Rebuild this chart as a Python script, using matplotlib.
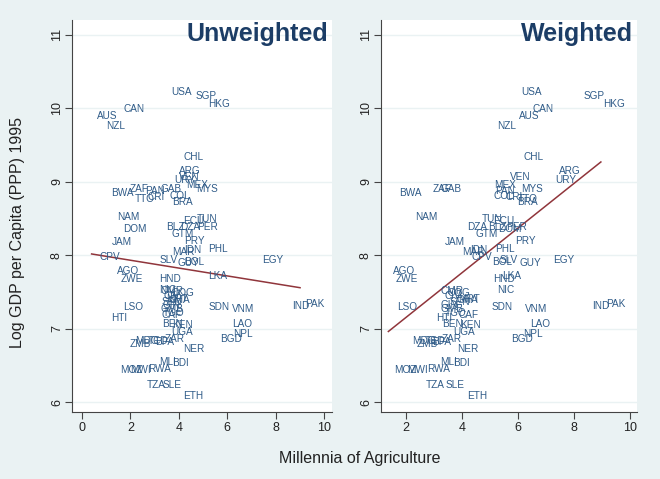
import matplotlib.pyplot as plt
import numpy as np

# country codes, millennia since agriculture (unweighted / ancestry weighted), log GDP pc 1995
countries = [
    "USA", "SGP", "HKG", "CAN", "AUS", "NZL", "CHL", "ARG", "VEN", "URY",
    "MEX", "MYS", "BWA", "ZAF", "GAB", "PAN", "TTO", "CRI", "COL", "BRA",
    "NAM", "ECU", "TUN", "DZA", "PER", "DOM", "BLZ", "GTM", "PRY", "JAM",
    "PHL", "IDN", "MAR", "CPV", "SLV", "GUY", "BOL", "EGY", "AGO", "ZWE",
    "LKA", "HND", "NIC", "LSO", "SDN", "VNM", "IND", "PAK", "LAO", "NPL",
    "BGD", "HTI", "CMR", "CIV", "GHA", "SEN", "COG", "MRT", "GIN", "GMB",
    "TGO", "CAF", "BEN", "KEN", "UGA", "MDG", "ZMB", "TCD", "BFA", "ZAR",
    "NER", "MLI", "BDI", "MOZ", "MWI", "RWA", "TZA", "SLE", "ETH",
]
mill_unweighted = [
    3.50, 4.50, 4.99, 1.50, 0.40, 0.81, 3.98, 3.82, 3.80, 3.61,
    4.08, 4.50, 1.02, 1.78, 3.02, 2.40, 1.98, 2.52, 3.40, 3.50,
    1.26, 3.98, 4.53, 3.84, 4.55, 1.50, 3.26, 3.50, 4.01, 1.02,
    5.01, 4.01, 3.50, 0.54, 2.99, 3.76, 4.01, 7.22, 1.25, 1.39,
    4.99, 2.99, 2.99, 1.49, 5.01, 5.99, 8.48, 9.01, 5.98, 6.02,
    5.50, 1.02, 3.02, 3.18, 3.35, 3.10, 3.51, 3.26, 3.14, 3.02,
    3.14, 3.10, 3.09, 3.50, 3.50, 1.98, 1.78, 2.52, 2.81, 3.22,
    3.98, 2.97, 3.50, 1.39, 1.78, 2.53, 2.49, 3.13, 3.98,
]
mill_weighted = [
    5.93, 8.18, 8.87, 6.35, 5.87, 5.09, 6.01, 7.30, 5.54, 7.14,
    4.98, 5.95, 1.58, 2.78, 3.04, 5.00, 5.82, 5.39, 4.96, 5.78,
    2.14, 4.94, 4.53, 4.01, 5.39, 5.11, 4.75, 4.29, 5.71, 3.21,
    5.00, 4.11, 3.81, 4.17, 5.18, 5.89, 4.88, 7.08, 1.37, 1.46,
    5.24, 4.94, 5.08, 1.51, 4.88, 6.07, 8.46, 8.96, 6.27, 5.99,
    5.56, 2.89, 3.04, 3.18, 3.61, 3.39, 3.29, 3.68, 3.07, 3.04,
    3.21, 3.68, 3.10, 3.75, 3.51, 2.03, 2.20, 2.50, 2.75, 3.10,
    3.63, 3.04, 3.51, 1.40, 1.85, 2.56, 2.53, 3.24, 4.01,
]
log_gdp = [
    10.22, 10.16, 10.06, 9.99, 9.90, 9.76, 9.33, 9.15, 9.07, 9.03,
    8.95, 8.90, 8.85, 8.90, 8.90, 8.87, 8.77, 8.79, 8.80, 8.72,
    8.52, 8.47, 8.49, 8.38, 8.39, 8.36, 8.38, 8.29, 8.20, 8.18,
    8.09, 8.07, 8.04, 7.97, 7.94, 7.90, 7.91, 7.94, 7.78, 7.68,
    7.72, 7.68, 7.53, 7.29, 7.29, 7.27, 7.31, 7.34, 7.07, 6.93,
    6.86, 7.14, 7.51, 7.45, 7.39, 7.36, 7.48, 7.41, 7.32, 7.27,
    7.21, 7.19, 7.06, 7.05, 6.95, 6.83, 6.79, 6.83, 6.82, 6.86,
    6.72, 6.55, 6.54, 6.44, 6.44, 6.45, 6.24, 6.24, 6.09,
]

# fitted lines (intercept, slope)
fit_unweighted = (8.039, -0.0533)
fit_weighted = (6.547, 0.3038)

BG = "#eaf2f3"
NAVY = "#2f5b88"
MAROON = "#90353b"

fig = plt.figure(figsize=(6.6, 4.79), dpi=100, facecolor=BG)
plt.rcParams["font.family"] = ["Liberation Sans", "DejaVu Sans"]

panels = [
    ("Unweighted", mill_unweighted, fit_unweighted, [72, 332], (-0.41, 10.33)),
    ("Weighted", mill_weighted, fit_weighted, [381, 637], (1.107, 10.25)),
]

for title, xs, fit, px, xlim in panels:
    ax = fig.add_axes([px[0] / 660, (479 - 412) / 479, (px[1] - px[0]) / 660, 392 / 479])
    ax.set_facecolor("white")
    ax.set_xlim(*xlim)
    ax.set_ylim(5.868, 11.2)
    for s in ["top", "right"]:
        ax.spines[s].set_visible(False)
    for s in ["left", "bottom"]:
        ax.spines[s].set_color("#444444")
        ax.spines[s].set_linewidth(0.8)
    ax.set_yticks(range(6, 12))
    ax.set_xticks(range(0 if xlim[0] < 0 else 2, 11, 2))
    ax.tick_params(axis="both", direction="out", length=5, width=0.8, color="#444444",
                   labelsize=9, labelcolor="#222222")
    ax.tick_params(axis="y", pad=1.5)
    ax.tick_params(axis="x", pad=2)
    plt.setp(ax.get_yticklabels(), rotation=90, va="center")
    for yy in range(6, 12):
        ax.axhline(yy, color=BG, lw=1.0, zorder=0)

    for code, x, y in zip(countries, xs, log_gdp):
        ax.annotate(code, (x, y), xytext=(3.6, 0), textcoords="offset points",
                    ha="left", va="center", fontsize=7.2, color=NAVY)

    xfit = np.array([min(xs), max(xs)])
    ax.plot(xfit, fit[0] + fit[1] * xfit, color=MAROON, lw=1.1)

    ax.text(0.985, 0.965, title, transform=ax.transAxes, ha="right", va="center",
            fontsize=18, fontweight="bold", color="#1c3d66")

fig.text(18 / 660, 1 - 232 / 479, "Log GDP per Capita (PPP) 1995", rotation=90,
         ha="center", va="center", fontsize=11.5, color="#222222")
fig.text(360 / 660, 1 - 458 / 479, "Millennia of Agriculture",
         ha="center", va="center", fontsize=11.5, color="#222222")

fig.savefig("out.png", dpi=100, facecolor=BG)
